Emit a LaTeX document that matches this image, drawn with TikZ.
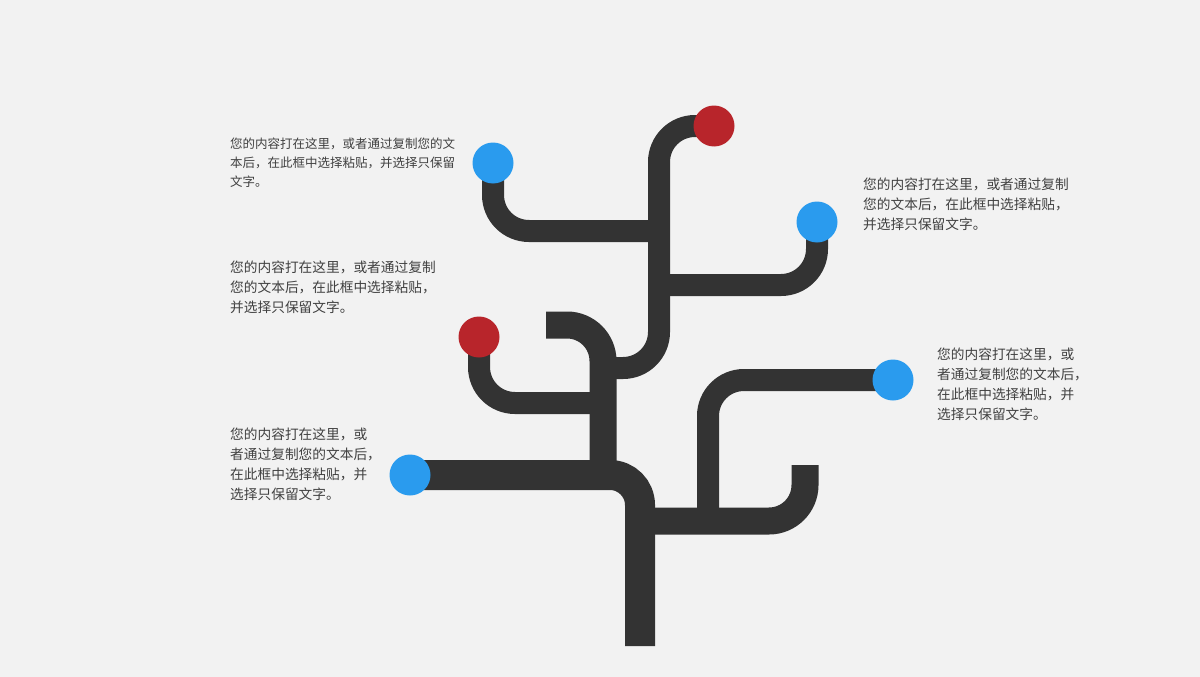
\documentclass[tikz,border=0pt]{standalone}
\usepackage{fontspec}
\newfontfamily\cjk{Noto Sans CJK SC}
\usetikzlibrary{calc}

\definecolor{paper}{HTML}{F2F2F2}
\definecolor{bark}{HTML}{333333}
\definecolor{leafblue}{HTML}{2A9BEE}
\definecolor{leafred}{HTML}{B8252B}
\definecolor{ink}{HTML}{404040}

\begin{document}
\begin{tikzpicture}[x=1pt,y=-1pt,
	trunk/.style={draw=bark, line width=30pt, rounded corners=30pt},
	bough/.style={draw=bark, line width=27pt, rounded corners=36pt},
	twig/.style={draw=bark, line width=22pt, rounded corners=36pt},
	bluedot/.style={circle, fill=leafblue, minimum size=41pt, inner sep=0pt},
	reddot/.style={circle, fill=leafred, minimum size=41pt, inner sep=0pt},
	note/.style={font=\cjk\fontsize{13.7}{20}\selectfont, text=ink, align=left, anchor=north west, inner sep=0pt}]
		
		\fill[paper] (0,0) rectangle (1200,677);
		
		% tips and forks
		\coordinate (root) at (640,646);
		\coordinate (b1) at (493,163);
		\coordinate (b2) at (817,222);
		\coordinate (b3) at (410,475);
		\coordinate (b4) at (893,380);
		\coordinate (r1) at (714,126);
		\coordinate (r2) at (479,337);
		\coordinate (hook) at (546,325);
		\coordinate (stub) at (805,465);
		\coordinate (f1) at (603,475);
		\coordinate (f2) at (640,521);
		\coordinate (f3) at (708,521);
		\coordinate (f4) at (603,368);
		\coordinate (f5) at (659,231);
		\coordinate (f6) at (659,285);
		\coordinate (f7) at (603,403);
		
		% limbs
		\draw[trunk] (root) |- (b3);
		\draw[bough] (hook) -| (f1);
		\draw[bough] (f2) -| (stub);
		\draw[twig] (f3) |- (b4);
		\draw[twig] (f4) -- (f4 -| f5) |- (r1);
		\draw[twig] (f5) -| (b1);
		\draw[twig] (f6) -| (b2);
		\draw[twig] (f7) -| (r2);
		
		% leaves
		\node[bluedot] (1) at (b1) {};
		\node[bluedot] (2) at (b2) {};
		\node[bluedot] (3) at (b3) {};
		\node[bluedot] (4) at (b4) {};
		\node[reddot] (5) at (r1) {};
		\node[reddot] (6) at (r2) {};
		
		\node[note, font=\cjk\fontsize{12.5}{19}\selectfont] (t1) at (230,138) {您的内容打在这里，或者通过复制您的文\\本后，在此框中选择粘贴，并选择只保留\\文字。};
		\node[note] (t2) at (230,261) {您的内容打在这里，或者通过复制\\您的文本后，在此框中选择粘贴，\\并选择只保留文字。};
		\node[note] (t3) at (230,428) {您的内容打在这里，或\\者通过复制您的文本后，\\在此框中选择粘贴，并\\选择只保留文字。};
		\node[note] (t4) at (863,178) {您的内容打在这里，或者通过复制\\您的文本后，在此框中选择粘贴，\\并选择只保留文字。};
		\node[note] (t5) at (937,348) {您的内容打在这里，或\\者通过复制您的文本后，\\在此框中选择粘贴，并\\选择只保留文字。};
	
		\end{tikzpicture}
\end{document}
